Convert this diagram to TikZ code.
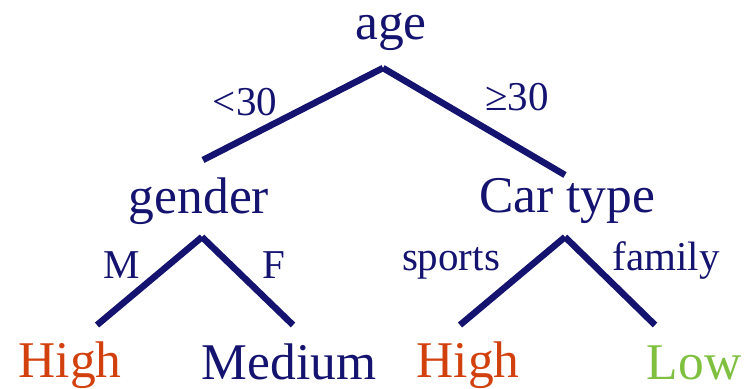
\documentclass[tikz,border=0pt]{standalone}
\usepackage{fontspec}
\setmainfont{Liberation Serif}
\definecolor{navy}{HTML}{141470}
\definecolor{hiorange}{HTML}{D2400E}
\definecolor{lowgreen}{HTML}{80C040}
\begin{document}
\begin{tikzpicture}[x=1pt,y=-1pt,
  big/.style={anchor=base,inner sep=0pt,font=\fontsize{51.5}{60}\selectfont,text=navy},
  lab/.style={anchor=base,inner sep=0pt,font=\fontsize{41}{48}\selectfont,text=navy},
  branch/.style={draw=navy,line width=6.5pt,line cap=butt}]
\useasboundingbox (0,0) rectangle (754,388);
% texts
\node[big] (age) at (391,39) {age};
\node[lab] (lt30) at (245,115) {<30};
\node[lab] (ge30) at (517,110) {≥30};
\node[big] (gender) at (199,213) {gender};
\node[big] (cartype) at (567,212) {Car type};
\node[lab] (m) at (122,278) {M};
\node[lab] (f) at (274,278) {F};
\node[lab] (sports) at (451,270) {sports};
\node[lab] (family) at (666,270) {family};
\node[big,text=hiorange] (high1) at (70,377) {High};
\node[big] (medium) at (289,379) {Medium};
\node[big,text=hiorange] (high2) at (468,377) {High};
\node[big,text=lowgreen] (low) at (694,379) {Low};
% branch points
\coordinate (a0) at (383,68);
\coordinate (a1) at (203,160);
\coordinate (a2) at (565,175);
\coordinate (g0) at (202,237);
\coordinate (g1) at (97,325);
\coordinate (g2) at (293,325);
\coordinate (c0) at (565,237);
\coordinate (c1) at (460,325);
\coordinate (c2) at (655,325);
\draw[branch] (a0) -- (a1);
\draw[branch] (a0) -- (a2);
\draw[branch] (g0) -- (g1);
\draw[branch] (g0) -- (g2);
\draw[branch] (c0) -- (c1);
\draw[branch] (c0) -- (c2);
\end{tikzpicture}
\end{document}
